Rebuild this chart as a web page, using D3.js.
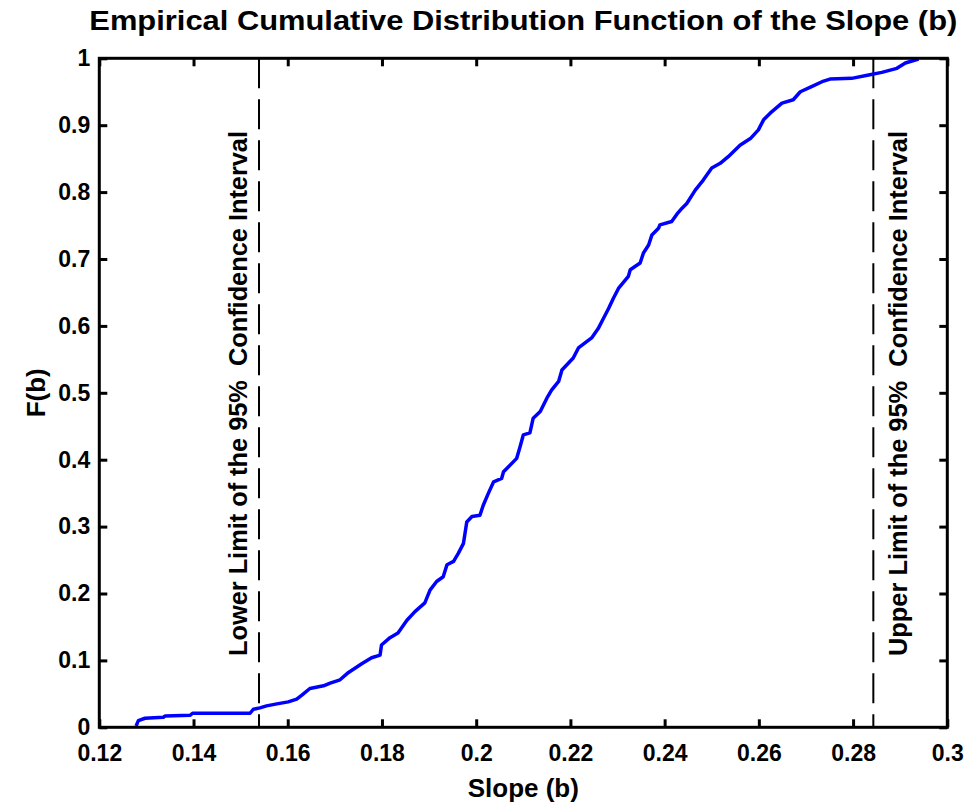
<!DOCTYPE html>
<html>
<head>
<meta charset="utf-8">
<script src="https://cdn.jsdelivr.net/npm/d3@7"></script>
<style>
  body { margin: 0; background: #fff; }
  text { font-family: "Liberation Sans", Arial, sans-serif; font-weight: bold; fill: #000; }
</style>
</head>
<body>
<div id="chart"></div>
<script>
"use strict";

// empirical CDF (slope b, F(b))
var slopes = [0.1278, 0.1283, 0.1297, 0.1336, 0.1340, 0.1393, 0.1398, 0.1520, 0.1527, 0.1541,
  0.1555, 0.1577, 0.1601, 0.1619, 0.1630, 0.1647, 0.1676, 0.1690, 0.1711, 0.1729,
  0.1757, 0.1778, 0.1796, 0.1799, 0.1817, 0.1834, 0.1853, 0.1870, 0.1891, 0.1902,
  0.1916, 0.1930, 0.1938, 0.1952, 0.1962, 0.1973, 0.1980, 0.1991, 0.2008, 0.2015,
  0.2026, 0.2037, 0.2054, 0.2058, 0.2086, 0.2093, 0.2100, 0.2114, 0.2121, 0.2136,
  0.2150, 0.2160, 0.2175, 0.2182, 0.2206, 0.2217, 0.2245, 0.2259, 0.2270, 0.2281,
  0.2291, 0.2302, 0.2323, 0.2327, 0.2348, 0.2355, 0.2366, 0.2373, 0.2387, 0.2390,
  0.2415, 0.2426, 0.2437, 0.2447, 0.2465, 0.2482, 0.2500, 0.2518, 0.2535, 0.2560,
  0.2582, 0.2599, 0.2610, 0.2624, 0.2649, 0.2673, 0.2688, 0.2713, 0.2734, 0.2751,
  0.2797, 0.2833, 0.2861, 0.2893, 0.2911, 0.2939];
var cdf = [0.002, 0.010, 0.0135, 0.015, 0.017, 0.018, 0.021, 0.021, 0.027, 0.029,
  0.032, 0.035, 0.038, 0.042, 0.048, 0.058, 0.062, 0.066, 0.071, 0.082,
  0.095, 0.104, 0.108, 0.123, 0.134, 0.141, 0.160, 0.173, 0.186, 0.205,
  0.218, 0.225, 0.243, 0.248, 0.260, 0.275, 0.307, 0.315, 0.317, 0.332,
  0.350, 0.367, 0.372, 0.382, 0.402, 0.419, 0.437, 0.440, 0.462, 0.472,
  0.492, 0.504, 0.517, 0.534, 0.552, 0.567, 0.582, 0.596, 0.611, 0.626,
  0.641, 0.656, 0.674, 0.684, 0.694, 0.709, 0.721, 0.736, 0.746, 0.751,
  0.756, 0.767, 0.776, 0.783, 0.803, 0.818, 0.836, 0.843, 0.853, 0.870,
  0.880, 0.893, 0.908, 0.918, 0.933, 0.938, 0.950, 0.958, 0.965, 0.969,
  0.970, 0.975, 0.979, 0.985, 0.993, 0.999];

var xTicks = [0.12, 0.14, 0.16, 0.18, 0.2, 0.22, 0.24, 0.26, 0.28, 0.3];
var yTicks = [0, 0.1, 0.2, 0.3, 0.4, 0.5, 0.6, 0.7, 0.8, 0.9, 1];

var lowerLimit = 0.1539,
    upperLimit = 0.2843;

var titleText = "Empirical Cumulative Distribution Function of the Slope (b)",
    xLabel = "Slope (b)",
    yLabel = "F(b)",
    lowerText = "Lower Limit of the 95%  Confidence Interval",
    upperText = "Upper Limit of the 95%  Confidence Interval";

(function() {
    var width = 970, height = 806,
        pl = 99.3, pr = 947.3, pt = 58.3, pb = 727.3;

    var x = d3.scaleLinear().domain([0.12, 0.3]).range([pl, pr]),
        y = d3.scaleLinear().domain([0, 1]).range([pb, pt]);

    var svg = d3.select("#chart").append("svg")
        .attr("width", width)
        .attr("height", height);

    // confidence limits
    [lowerLimit, upperLimit].forEach(function(v) {
        svg.append("line")
            .attr("x1", x(v)).attr("x2", x(v))
            .attr("y1", pt).attr("y2", pb)
            .attr("stroke", "#000")
            .attr("stroke-width", 2)
            .attr("stroke-dasharray", "30,11");
    });

    // the curve
    var pts = slopes.map(function(s, i) { return [s, cdf[i]]; });
    svg.append("path")
        .datum(pts)
        .attr("fill", "none")
        .attr("stroke", "#0000ff")
        .attr("stroke-width", 3.5)
        .attr("stroke-linejoin", "round")
        .attr("d", d3.line().x(d => x(d[0])).y(d => y(d[1])));

    // axes, ticks inside like matlab
    function styleAxis(g) {
        g.select(".domain").remove();
        g.selectAll(".tick line").attr("stroke", "#000").attr("stroke-width", 3);
        g.selectAll(".tick text")
            .style("font-size", "23px")
            .style("font-family", "Liberation Sans, Arial, sans-serif")
            .style("font-weight", "bold");
    }

    svg.append("g")
        .attr("transform", "translate(0," + pb + ")")
        .call(d3.axisBottom(x).tickValues(xTicks).tickFormat(String).tickSizeInner(-8).tickSizeOuter(0).tickPadding(17))
        .call(styleAxis);

    svg.append("g")
        .attr("transform", "translate(0," + pt + ")")
        .call(d3.axisTop(x).tickValues(xTicks).tickFormat("").tickSizeInner(-8).tickSizeOuter(0))
        .call(styleAxis);

    svg.append("g")
        .attr("transform", "translate(" + pl + ",0)")
        .call(d3.axisLeft(y).tickValues(yTicks).tickFormat(String).tickSizeInner(-8).tickSizeOuter(0).tickPadding(9))
        .call(styleAxis);

    svg.append("g")
        .attr("transform", "translate(" + pr + ",0)")
        .call(d3.axisRight(y).tickValues(yTicks).tickFormat("").tickSizeInner(-8).tickSizeOuter(0))
        .call(styleAxis);

    svg.append("rect")
        .attr("x", pl).attr("y", pt)
        .attr("width", pr - pl).attr("height", pb - pt)
        .attr("fill", "none")
        .attr("stroke", "#000")
        .attr("stroke-width", 3);

    // texts
    svg.append("text")
        .attr("x", (pl + pr) / 2).attr("y", 30)
        .attr("text-anchor", "middle")
        .attr("textLength", 868)
        .attr("lengthAdjust", "spacingAndGlyphs")
        .style("font-size", "28px")
        .text(titleText);

    svg.append("text")
        .attr("x", (pl + pr) / 2).attr("y", 797)
        .attr("text-anchor", "middle")
        .style("font-size", "26px")
        .text(xLabel);

    svg.append("text")
        .attr("transform", "translate(45," + ((pt + pb) / 2) + ") rotate(-90)")
        .attr("text-anchor", "middle")
        .style("font-size", "26px")
        .text(yLabel);

    [[lowerText, 247], [upperText, 907]].forEach(function(t) {
        svg.append("text")
            .attr("transform", "translate(" + t[1] + ",656) rotate(-90)")
            .attr("textLength", 525)
            .attr("lengthAdjust", "spacingAndGlyphs")
            .style("white-space", "pre")
            .style("font-size", "26px")
            .text(t[0]);
    });
})();
</script>
</body>
</html>
